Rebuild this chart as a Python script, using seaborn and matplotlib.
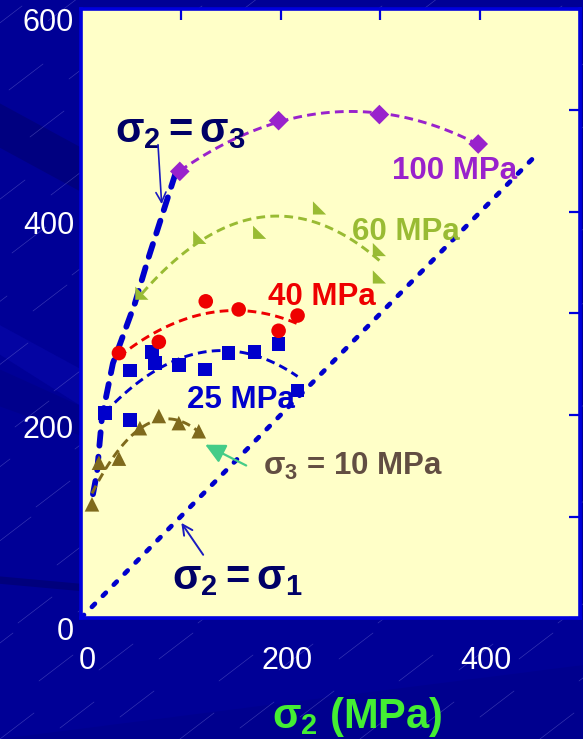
import numpy as np
import pandas as pd
import matplotlib
matplotlib.use("Agg")
import matplotlib.pyplot as plt
import seaborn as sns
from matplotlib.ticker import MultipleLocator, FuncFormatter
from matplotlib.transforms import ScaledTranslation
from matplotlib.lines import Line2D
from matplotlib.patches import Polygon
from matplotlib.path import Path

sns.set_theme(style="white")
plt.rcParams["font.family"] = ["Liberation Sans", "DejaVu Sans"]
plt.rcParams["mathtext.fontset"] = "custom"
plt.rcParams["mathtext.rm"] = "Liberation Sans:bold"
plt.rcParams["mathtext.it"] = "Liberation Sans:bold"
plt.rcParams["mathtext.bf"] = "Liberation Sans:bold"

# ---- true-triaxial strength data: sigma_2 vs sigma_1 (MPa) for each sigma_3 ----
s2_10 = [11, 18, 38, 59, 78, 98, 118]
s1_10 = [112, 153, 157, 187, 199, 192, 184]

s2_25 = [24, 49, 49, 71, 74, 98, 124, 148, 174, 198, 217]
s1_25 = [202, 195, 244, 262, 251, 249, 245, 261, 262, 270, 224]

s2_40 = [38, 78, 125, 158, 198, 217]
s1_40 = [261, 272, 312, 304, 283, 298]

s2_60 = [61, 119, 179, 239, 299, 299]
s1_60 = [320, 375, 380, 404, 363, 336]

s2_100 = [99, 198, 299, 398]
s1_100 = [440, 490, 496, 467]

# boundary curves
eq23_s2 = [12, 16, 21, 32, 54, 67, 82, 95]
eq23_s1 = [122, 143, 198, 251, 310, 353, 399, 439]
eq21_s2 = [0, 458]
eq21_s1 = [0, 458]

x_ticks_labelled = [0, 200, 400]
y_ticks_labelled = [0, 200, 400, 600]

# ---- colours ----
BG = "#000096"
PANEL = "#FFFFC8"
AXBLUE = "#0000DD"
C10 = "#7F6A1C"
C25 = "#0000CC"
C40 = "#EE0000"
C60 = "#99BB33"
C100 = "#9922CC"
NAVY = "#000066"

fig = plt.figure(figsize=(5.83, 7.39), dpi=100)
fig.patch.set_facecolor(BG)

# subtle background banding and streaks
for pts, col in [
    ([(0, 0.86), (0.14, 0.80), (0.14, 0.74), (0, 0.80)], "#000080"),
    ([(0, 0.56), (0.14, 0.50), (0.14, 0.45), (0, 0.52)], "#0404A2"),
    ([(0, 0.50), (0.14, 0.45), (0.14, 0.41), (0, 0.45)], "#00008C"),
    ([(0, 0.22), (0.14, 0.21), (0.14, 0.20), (0, 0.21)], "#00007C"),
    ([(0, 0.0), (1, 0.10), (1, 0.0)], "#00008E"),
]:
    fig.add_artist(Polygon(pts, closed=True, transform=fig.transFigure,
                           facecolor=col, edgecolor="none", zorder=0))
for i in range(-12, 14):
    for j in range(0, 14):
        x0 = (i * 60 + (j % 2) * 30 + j * 9) / 583
        y0 = (j * 58 + (i % 3) * 11) / 739
        x1 = x0 + 34 / 583
        y1 = y0 + 26 / 739
        if -0.05 < x0 < 1.0 and -0.05 < y0 < 1.0:
            fig.add_artist(Line2D([x0, x1], [y0, y1], transform=fig.transFigure,
                                  color="#8C8CE0", lw=0.45, alpha=0.4, zorder=0))

ax = fig.add_axes([81 / 583, 121 / 739, 499 / 583, 609 / 739])
ax.set_facecolor(PANEL)
ax.set_zorder(2)

# boundary lines
sns.lineplot(x=eq21_s2, y=eq21_s1, sort=False, ax=ax, color=C25, lw=3.4,
             zorder=2)
ax.lines[-1].set_dashes((0.9, 2.4))
ax.lines[-1].set_dash_capstyle("round")
sns.lineplot(x=eq23_s2, y=eq23_s1, sort=False, ax=ax, color=C25, lw=4.2,
             zorder=2)
ax.lines[-1].set_dashes((2.3, 1.9))
ax.lines[-1].set_dash_capstyle("round")

series = [
    (s2_10, s1_10, C10, "^", 110),
    (s2_25, s1_25, C25, "s", 95),
    (s2_40, s1_40, C40, "o", 110),
    (s2_60, s1_60, C60, Path([(-1, -1), (1, -1), (-1, 1), (-1, -1)],
                              [1, 2, 2, 79]), 90),
    (s2_100, s1_100, C100, "D", 100),
]
for xs, ys, col, mk, size in series:
    sns.regplot(x=np.array(xs, float), y=np.array(ys, float), order=2, ci=None,
                scatter=False, truncate=True, color=col, ax=ax,
                line_kws=dict(lw=2.1, dashes=(3.0, 1.8), zorder=2.5))
    sns.scatterplot(x=xs, y=ys, marker=mk, s=size, color=col, edgecolor="none",
                    linewidth=0, ax=ax, zorder=3)

ax.set_xlim(0, 500)
ax.set_ylim(0, 600)
ax.set_xlabel("")
ax.set_ylabel("")

fmt_x = FuncFormatter(lambda v, p: f"{int(round(v))}" if int(round(v)) in x_ticks_labelled else "")
fmt_y = FuncFormatter(lambda v, p: f"{int(round(v))}" if int(round(v)) in y_ticks_labelled else "")
ax.xaxis.set_major_locator(MultipleLocator(100))
ax.yaxis.set_major_locator(MultipleLocator(100))
ax.xaxis.set_major_formatter(fmt_x)
ax.yaxis.set_major_formatter(fmt_y)
ax.tick_params(direction="in", length=8, width=1.6, colors=AXBLUE,
               labelcolor="white", labelsize=22, top=True, right=True)
ax.tick_params(axis="x", pad=20)
ax.tick_params(axis="y", pad=5)
for sp in ax.spines.values():
    sp.set_color(AXBLUE)
    sp.set_linewidth(2.6)

for lab in ax.get_yticklabels():
    lab.set_transform(lab.get_transform() + ScaledTranslation(0, -0.11, fig.dpi_scale_trans))
for lab in ax.get_xticklabels():
    lab.set_transform(lab.get_transform() + ScaledTranslation(0.06, 0, fig.dpi_scale_trans))

# series labels
ax.text(312, 433, "100 MPa", color=C100, fontsize=22.5, fontweight="bold", va="baseline")
ax.text(272, 372, "60 MPa", color=C60, fontsize=22.5, fontweight="bold", va="baseline")
ax.text(187, 308, "40 MPa", color=C40, fontsize=22.5, fontweight="bold", va="baseline")
ax.text(106, 207, "25 MPa", color=C25, fontsize=22.5, fontweight="bold", va="baseline")
ax.text(182, 141, r"$\sigma_3$ = 10 MPa", color="#624E42", fontsize=22.5,
        fontweight="bold", va="baseline")

ax.text(34, 469, r"$\sigma_2 = \sigma_3$", color=NAVY, fontsize=30, va="baseline")
ax.text(91, 28, r"$\sigma_2 = \sigma_1$", color=NAVY, fontsize=30, va="baseline")

ax.annotate("", xy=(81, 405), xytext=(77, 469),
            arrowprops=dict(arrowstyle="->", color="#1A1AC0", lw=1.2,
                            mutation_scale=18))
ax.annotate("", xy=(99, 96), xytext=(124, 60),
            arrowprops=dict(arrowstyle="->", color="#1A1AC0", lw=1.4,
                            mutation_scale=18))
ax.annotate("", xy=(122, 172), xytext=(168, 149),
            arrowprops=dict(arrowstyle="-|>", color="#44CC88", lw=1.6,
                            mutation_scale=30))

fig.text(357 / 583, 1 - 717 / 739, r"$\sigma_2$ (MPa)", color="#44EE33",
         fontsize=30, fontweight="bold", ha="center", va="center")

fig.savefig("out.png", dpi=100, facecolor=fig.get_facecolor())
